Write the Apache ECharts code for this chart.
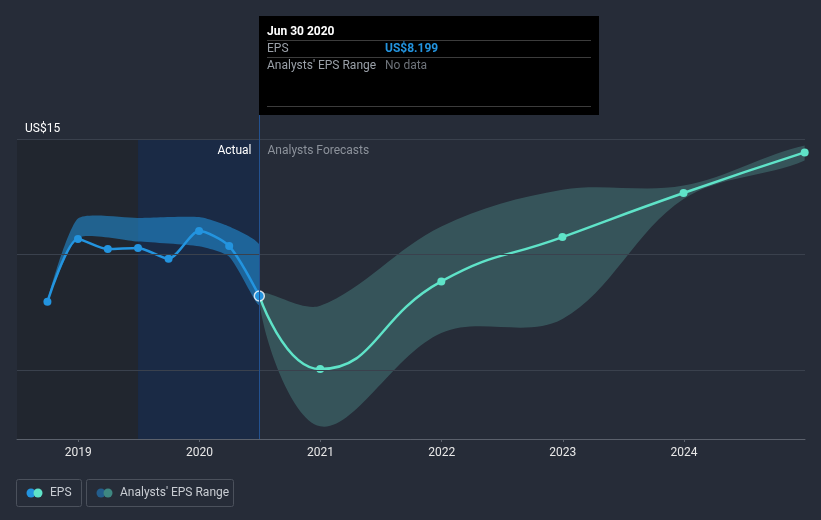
<!DOCTYPE html>
<html><head><meta charset="utf-8">
<script src="https://cdn.jsdelivr.net/npm/echarts@6/dist/echarts.min.js"></script>
<style>html,body{margin:0;padding:0;background:#262c38;}#c{width:821px;height:520px;}</style>
</head><body><div id="c"></div>
<script>
// ---- data ----
const histDates = ['2018-09-30','2018-12-31','2019-03-31','2019-06-30','2019-09-30','2019-12-31','2020-03-31','2020-06-30'];
const histEPS = [7.95, 10.67, 10.23, 10.28, 9.81, 11.01, 10.36, 8.199];
const histRangeDates = ['2018-09-30','2018-12-31','2019-06-30','2019-12-31','2020-03-31','2020-06-30'];
const histRangeLow = [7.95, 10.72, 10.56, 10.35, 9.9, 7.8];
const histRangeHigh = [7.95, 11.55, 11.58, 11.62, 11.21, 10.42];
const fcDates = ['2020-06-30','2020-12-31','2021-12-31','2022-12-31','2023-12-31','2024-12-31'];
const fcEPS = [8.199, 5.03, 8.83, 10.75, 12.66, 14.42];
const fcLow = [8.199, 2.55, 6.59, 7.20, 12.40, 14.07];
const fcHigh = [8.199, 7.77, 11.21, 12.80, 12.98, 14.72];
const xTickYears = [2019, 2020, 2021, 2022, 2023, 2024];
const yGridValues = [5, 10, 15];
const yLabelValues = [2, 15];
const pastStart = '2019-06-30';
const nowDate = '2020-06-30';

// ---- helpers ----
function decYear(s) {
  const d = new Date(s + 'T00:00:00Z');
  const y = d.getUTCFullYear();
  const start = Date.UTC(y, 0, 1), end = Date.UTC(y + 1, 0, 1);
  return y + (d.getTime() - start) / (end - start);
}
function pairs(dates, vals) { return dates.map((d, i) => [decYear(d), vals[i]]); }

const BLUE = '#2394df', TEAL = '#5fe3c8';
const xMin = 2018.494, xMax = 2025.0;
const nowX = decYear(nowDate);

// band polygon drawn through the axes with api.coord
function bandSeries(dates, lo, hi, color, smooth) {
  const upper = pairs(dates, hi);
  const lower = pairs(dates, lo);
  const xFrom = upper[0][0], xTo = upper[upper.length - 1][0];
  return {
    type: 'custom', silent: true, z: 1,
    data: [0],
    renderItem: function (params, api) {
      const pts = [];
      upper.forEach(p => pts.push(api.coord(p)));
      for (let i = lower.length - 1; i >= 0; i--) {
        if (lower[i][1] === upper[i][1] && i === 0) continue;
        pts.push(api.coord(lower[i]));
      }
      const cs = params.coordSys;
      const x0 = Math.max(cs.x, api.coord([xFrom, 2])[0]);
      const x1 = Math.min(cs.x + cs.width, api.coord([xTo, 2])[0]);
      return {
        type: 'polygon',
        shape: {points: pts, smooth: smooth},
        style: {fill: color, stroke: 'none'},
        clipPath: {type: 'rect', shape: {x: x0, y: cs.y, width: x1 - x0, height: cs.height}}
      };
    }
  };
}

const chart = echarts.init(document.getElementById('c'), null, {renderer: 'canvas'});
const option = {
  backgroundColor: '#262c38',
  animation: false,
  textStyle: {fontFamily: 'Roboto, sans-serif'},
  grid: {left: 17, right: 16, top: 139, bottom: 81, containLabel: false},
  xAxis: {
    type: 'value', min: xMin, max: xMax,
    axisLine: {show: true, lineStyle: {color: '#5b616c', width: 1}},
    axisTick: {show: true, length: 3, customValues: xTickYears, lineStyle: {color: '#5b616c'}},
    axisLabel: {customValues: xTickYears, color: '#e8e8e8', fontSize: 12, margin: 8,
      formatter: v => String(Math.round(v))},
    splitLine: {show: false}
  },
  yAxis: {
    type: 'value', min: 2, max: 15,
    axisLine: {show: false},
    axisTick: {show: false},
    splitLine: {show: false},
    axisLabel: {customValues: yLabelValues, inside: true, margin: 8, color: '#ffffff', fontSize: 12,
      verticalAlign: 'bottom', padding: [0, 0, 4, 0], formatter: v => 'US$' + v}
  },
  series: [
    {
      type: 'line', data: [], silent: true,
      markArea: {silent: true, data: [
        [{xAxis: xMin, itemStyle: {color: '#21262f'}}, {xAxis: decYear(pastStart)}],
        [{xAxis: decYear(pastStart), itemStyle: {color: '#1a2a45'}}, {xAxis: nowX}]
      ]},
      markLine: {silent: true, symbol: 'none', label: {show: false},
        lineStyle: {color: '#3a414d', type: 'solid', width: 1},
        data: yGridValues.map(v => ({yAxis: v}))}
    },
    bandSeries(histRangeDates, histRangeLow, histRangeHigh, 'rgba(35,148,223,0.55)', 0.2),
    bandSeries(fcDates, fcLow, fcHigh, 'rgba(100,200,190,0.26)', 0.35),
    {type: 'line', data: pairs(histDates, histEPS), smooth: 0.25, z: 3,
      symbol: 'circle', symbolSize: 8, showAllSymbol: true,
      lineStyle: {color: BLUE, width: 2.5}, itemStyle: {color: BLUE}},
    {type: 'line', data: pairs(fcDates, fcEPS).map((p, i) => i === 0 ? {value: p, symbol: 'none'} : p),
      smooth: 0.5, symbol: 'circle', symbolSize: 8, showAllSymbol: true, clip: false, z: 3,
      lineStyle: {color: TEAL, width: 2.5}, itemStyle: {color: TEAL}},
    {type: 'scatter', data: [[nowX, histEPS[histEPS.length - 1]]], symbolSize: 10,
      itemStyle: {color: BLUE, borderColor: '#ffffff', borderWidth: 1.5}, z: 5}
  ]
};
chart.setOption(option);

const lx = Math.round(chart.convertToPixel({xAxisIndex: 0}, nowX)) + 0.5;
const axisY = 439;
const tipLeft = lx - 0.5, tipTop = 16, tipW = 340, tipH = 99;
const font12 = '12px Roboto, sans-serif';
chart.setOption({
  graphic: [
    {type: 'line', shape: {x1: lx, y1: tipTop + tipH, x2: lx, y2: axisY}, style: {stroke: '#23518f', lineWidth: 1}, z: 10},
    {type: 'text', x: lx - 8, y: 151, style: {text: 'Actual', fill: '#ffffff', font: font12, align: 'right', verticalAlign: 'middle'}, z: 10},
    {type: 'text', x: lx + 8, y: 151, style: {text: 'Analysts Forecasts', fill: '#8c929b', font: font12, align: 'left', verticalAlign: 'middle'}, z: 10},
    {type: 'group', x: tipLeft, y: tipTop, z: 20, children: [
      {type: 'rect', shape: {x: 0, y: 0, width: tipW, height: tipH}, style: {fill: '#000000'}},
      {type: 'text', x: 8, y: 16, style: {text: 'Jun 30 2020', fill: '#ffffff', font: 'bold 12px Roboto, sans-serif', verticalAlign: 'middle'}},
      {type: 'line', shape: {x1: 8, y1: 24.5, x2: 332, y2: 24.5}, style: {stroke: '#3c3c3c', lineWidth: 1}},
      {type: 'text', x: 8, y: 33, style: {text: 'EPS', fill: '#9aa0a8', font: font12, verticalAlign: 'middle'}},
      {type: 'text', x: 126, y: 33, style: {text: 'US$8.199', fill: BLUE, font: 'bold 12px Roboto, sans-serif', verticalAlign: 'middle'}},
      {type: 'line', shape: {x1: 8, y1: 41.5, x2: 332, y2: 41.5}, style: {stroke: '#3c3c3c', lineWidth: 1}},
      {type: 'text', x: 8, y: 50, style: {text: "Analysts' EPS Range", fill: '#9aa0a8', font: font12, verticalAlign: 'middle'}},
      {type: 'text', x: 126, y: 50, style: {text: 'No data', fill: '#6e737a', font: font12, verticalAlign: 'middle'}},
      {type: 'line', shape: {x1: 8, y1: 90.5, x2: 332, y2: 90.5}, style: {stroke: '#3c3c3c', lineWidth: 1}}
    ]},
    {type: 'group', x: 0, y: 0, z: 20, children: [
      {type: 'rect', shape: {x: 16.5, y: 479.5, width: 65, height: 27, r: 2}, style: {fill: 'transparent', stroke: '#4b515c', lineWidth: 1}},
      {type: 'circle', shape: {cx: 31, cy: 493, r: 4.5}, style: {fill: BLUE}},
      {type: 'circle', shape: {cx: 38, cy: 493, r: 4.5}, style: {fill: TEAL}},
      {type: 'text', x: 50, y: 493, style: {text: 'EPS', fill: '#c9cdd3', font: font12, verticalAlign: 'middle'}},
      {type: 'rect', shape: {x: 86.5, y: 479.5, width: 147, height: 27, r: 2}, style: {fill: 'transparent', stroke: '#4b515c', lineWidth: 1}},
      {type: 'circle', shape: {cx: 101, cy: 493, r: 4.5}, style: {fill: '#235d8c'}},
      {type: 'circle', shape: {cx: 108, cy: 493, r: 4.5}, style: {fill: '#3e8781'}},
      {type: 'text', x: 120, y: 493, style: {text: "Analysts' EPS Range", fill: '#c9cdd3', font: font12, verticalAlign: 'middle'}}
    ]}
  ]
});
</script>
</body></html>
